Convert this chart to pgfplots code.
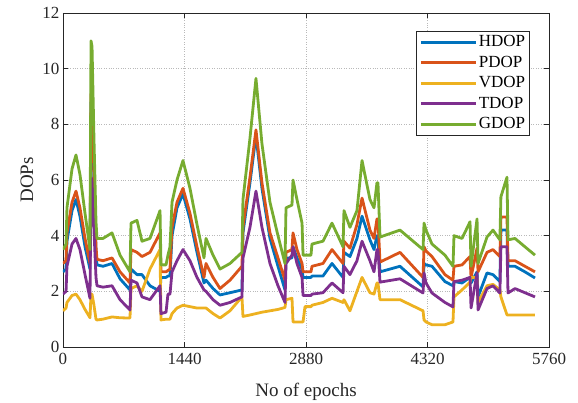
\documentclass[border=0pt]{standalone}
\usepackage{pgfplots}
\pgfplotsset{compat=1.18}
\usepackage{pgfplotstable}
\usepackage{fontspec}
\setmainfont{Liberation Serif}
\definecolor{mblue}{RGB}{0,114,189}
\definecolor{morange}{RGB}{217,83,25}
\definecolor{myellow}{RGB}{237,177,32}
\definecolor{mpurple}{RGB}{126,47,142}
\definecolor{mgreen}{RGB}{119,172,48}

% epoch  GDOP  PDOP  HDOP  TDOP  VDOP
\pgfplotstableread{
x    G     P     H     T     V
0    3.5   3.0   2.7   1.9   1.3
36   3.7   3.1   2.8   2.0   1.4
47   5.0   4.1   3.8   2.9   1.6
107  6.4   5.2   4.9   3.7   1.85
154  6.9   5.6   5.3   3.9   1.9
201  6.2   5.0   4.7   3.5   1.7
261  4.8   3.9   3.6   2.6   1.35
320  3.5   3.0   2.8   1.75  1.05
332  11.0  9.1   8.8   6.1   1.9
344  10.8  8.9   8.6   6.0   1.9
367  7.5   6.2   6.0   4.2   1.5
391  4.5   3.6   3.4   2.5   1.0
403  3.9   3.15  2.95  2.2   0.97
474  3.9   3.1   2.9   2.15  1.0
581  4.1   3.2   3.0   2.2   1.08
676  3.3   2.7   2.45  1.7   1.05
794  2.7   2.3   2.05  1.33  1.04
806  4.45  3.5   2.8   2.4   2.1
877  4.55  3.4   2.6   2.3   2.2
936  3.8   3.25  2.6   1.8   2.0
1031 3.9   3.4   2.2   1.7   2.8
1150 4.9   4.1   2.0   2.2   3.5
1161 2.95  2.7   2.5   1.2   0.97
1221 2.95  2.7   2.5   1.25  1.0
1244 3.3   2.75  2.55  1.9   1.0
1268 3.6   2.8   2.55  1.9   1.0
1292 5.2   4.3   4.0   2.7   1.2
1351 6.0   5.2   5.0   3.1   1.4
1422 6.7   5.7   5.5   3.5   1.5
1505 5.7   4.8   4.6   3.1   1.45
1588 4.4   3.6   3.4   2.5   1.4
1671 3.2   2.5   2.3   2.05  1.4
1695 3.9   3.0   2.4   2.0   1.4
1778 3.3   2.5   2.1   1.7   1.2
1861 2.8   2.1   1.87  1.5   1.04
1979 3.0   2.4   1.95  1.6   1.3
2121 3.4   2.9   2.05  1.8   1.8
2133 5.3   4.3   4.1   3.2   1.1
2216 7.5   6.1   5.9   4.3   1.15
2287 9.65  7.8   7.6   5.6   1.2
2358 7.3   5.9   5.7   4.3   1.25
2453 5.2   4.1   3.9   3.0   1.3
2548 4.0   3.2   2.9   2.2   1.35
2631 3.0   2.4   2.05  1.6   1.42
2643 5.0   3.4   3.2   3.0   1.7
2714 5.1   3.5   3.2   3.3   1.75
2726 6.0   4.1   3.6   3.6   0.9
2773 5.3   3.5   3.2   3.0   0.9
2833 4.45  3.0   2.8   2.5   0.9
2845 3.3   2.7   2.5   1.85  0.9
2868 3.3   2.7   2.5   1.85  1.45
2939 3.3   2.7   2.5   1.85  1.45
2951 3.7   2.9   2.55  1.9   1.5
3081 3.8   3.0   2.55  1.95  1.6
3188 4.45  3.5   3.0   2.3   1.75
3319 3.6   3.0   2.5   1.95  1.6
3330 4.9   3.8   3.4   2.9   1.7
3401 4.3   3.55  3.25  2.6   1.3
3484 4.9   4.4   3.9   3.1   2.0
3544 6.7   5.35  4.7   3.8   2.5
3638 5.3   4.2   3.85  3.1   1.95
3686 5.0   3.9   3.5   2.7   1.9
3721 5.9   4.6   4.0   3.5   2.3
3733 5.9   4.6   4.0   3.5   2.3
3757 3.95  3.05  2.7   2.33  1.7
3994 4.2   3.4   2.9   2.45  1.7
4267 3.5   2.5   2.16  1.94  1.3
4279 4.45  3.6   3.0   2.66  0.97
4302 4.2   3.45  2.95  2.3   0.9
4373 3.7   3.25  2.9   1.94  0.8
4527 3.3   2.6   2.35  1.6   0.8
4622 2.9   2.4   2.2   1.44  0.9
4634 4.0   2.9   2.35  2.35  1.8
4729 3.9   2.95  2.3   2.4   2.05
4824 4.5   3.25  2.5   2.5   2.33
4836 2.9   2.5   2.3   1.4   2.5
4907 4.6   3.55  2.7   2.66  2.5
4919 3.0   2.7   1.8   1.33  1.6
5025 3.95  3.4   2.66  2.1   2.2
5096 4.2   3.5   2.6   2.2   2.25
5178 3.85  3.25  2.35  1.94  2.05
5190 5.4   4.67  4.2   3.6   1.8
5262 6.1   4.67  4.2   3.6   1.15
5274 3.85  3.1   2.9   1.94  1.15
5357 3.9   3.1   2.9   2.1   1.15
5475 3.6   2.9   2.7   1.95  1.15
5594 3.3   2.7   2.48  1.8   1.15
}\dop

\begin{document}
\begin{tikzpicture}
\begin{axis}[
    name=ax,
    scale only axis,
    width=486pt, height=334pt,
    xmin=0, xmax=5760, ymin=0, ymax=12,
    xtick={0,1440,2880,4320,5760},
    ytick={0,2,...,12},
    tick align=inside,
    major tick length=5pt,
    tick style={black!85, line width=0.6pt},
    axis line style={black!85, line width=0.8pt},
    grid=major,
    grid style={dotted, gray!55, line width=0.7pt},
    /pgf/number format/1000 sep={},
    /pgf/number format/assume math mode=true,
    ticklabel style={font=\fontsize{17}{20}\selectfont, text=black!85},
    xticklabel style={yshift=-3pt},
    xlabel={No of epochs},
    ylabel={DOPs},
    label style={font=\fontsize{19}{22}\selectfont, text=black!85},
    xlabel style={at={(axis description cs:0.5,-0.133)}, anchor=center},
    ylabel style={at={(axis description cs:-0.074,0.5)}, anchor=center},
    every axis plot/.append style={line width=2.8pt, line join=round},
    legend cell align=left,
    legend style={at={(1,1)}, anchor=north east, xshift=-19pt, yshift=-18pt,
        draw=black!85, line width=0.8pt, fill=white,
        font=\fontsize{17}{20}\selectfont,
        nodes={inner sep=1.5pt, text height=12pt, text depth=3pt},
        row sep=2.5pt},
    legend image code/.code={\draw[#1, line width=2.8pt] (0pt,0pt) -- (55pt,0pt);},
]
\addplot[mblue]   table[x=x, y=H] {\dop};
\addlegendentry{HDOP}
\addplot[morange] table[x=x, y=P] {\dop};
\addlegendentry{PDOP}
\addplot[myellow] table[x=x, y=V] {\dop};
\addlegendentry{VDOP}
\addplot[mpurple] table[x=x, y=T] {\dop};
\addlegendentry{TDOP}
\addplot[mgreen]  table[x=x, y=G] {\dop};
\addlegendentry{GDOP}
\end{axis}
\pgfresetboundingbox
\path ([shift={(-63pt,-56pt)}]ax.south west) rectangle ([shift={(29pt,13pt)}]ax.north east);
\end{tikzpicture}
\end{document}
